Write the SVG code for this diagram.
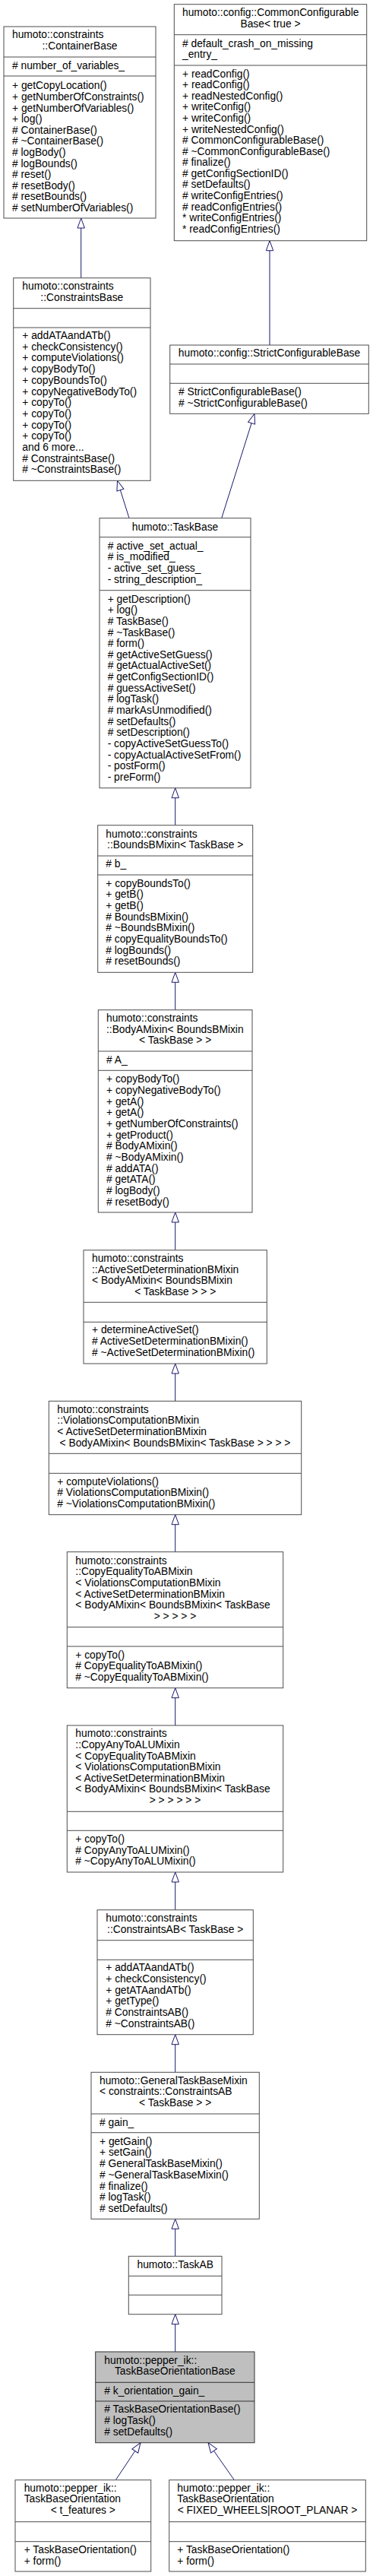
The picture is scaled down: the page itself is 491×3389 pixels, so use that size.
<svg xmlns="http://www.w3.org/2000/svg" width="491" height="3389" viewBox="0 0 491 3389">
<style>
.bx{fill:#fff;stroke:#4d4d4d;stroke-width:1}
.hl{fill:#bfbfbf;stroke:#333;stroke-width:1}
.sp{stroke:#4d4d4d;stroke-width:1}
.sh{stroke:#333;stroke-width:1}
text{font-family:"Liberation Sans",Arial,Helvetica,sans-serif;font-size:13.8px;fill:#000}
.c{text-anchor:middle}
.e{stroke:#191970;stroke-width:1;fill:none;marker-end:url(#arr)}
</style>
<defs>
<marker id="arr" markerUnits="userSpaceOnUse" markerWidth="15" markerHeight="11" viewBox="0 0 15 11" refX="13.5" refY="5.5" orient="auto" overflow="visible">
<path d="M0.5,0.8 L13.5,5.5 L0.5,10.2 Z" fill="#fff" stroke="#191970" stroke-width="1"/>
</marker>
</defs>
<rect width="491" height="3389" fill="#fff"/>
<g id="connectors">
<path class="e" d="M106.7,365.7 L106.7,287"/>
<path class="e" d="M355,454 L355,316.7"/>
<path class="e" d="M170,681.7 L154.5,632.3"/>
<path class="e" d="M291.7,681.7 L335,544.3"/>
<path class="e" d="M230.7,1085.7 L230.7,1036.7"/>
<path class="e" d="M230.7,1328.7 L230.7,1279.3"/>
<path class="e" d="M230.7,1644.7 L230.7,1595"/>
<path class="e" d="M230.7,1843.3 L230.7,1794"/>
<path class="e" d="M230.7,2041.7 L230.7,1992.7"/>
<path class="e" d="M230.7,2270 L230.7,2220.7"/>
<path class="e" d="M230.7,2512.7 L230.7,2463"/>
<path class="e" d="M230.7,2726.3 L230.7,2676.7"/>
<path class="e" d="M230.7,2968.3 L230.7,2919.3"/>
<path class="e" d="M230.7,3094 L230.7,3044.7"/>
<path class="e" d="M152.3,3262.7 L185,3213.7"/>
<path class="e" d="M308.3,3262.7 L274,3213.7"/>
</g>
<g id="ContainerBase">
<rect class="bx" x="5" y="35" width="200" height="252"/>
<line class="sp" x1="5" y1="75" x2="205" y2="75"/>
<line class="sp" x1="5" y1="100" x2="205" y2="100"/>
<text x="16" y="50">humoto::constraints</text>
<text class="c" x="105" y="65">::ContainerBase</text>
<text x="16" y="90.7"># number_of_variables_</text>
<text y="117.3"><tspan x="16">+ getCopyLocation()</tspan><tspan x="16" dy="14.6">+ getNumberOfConstraints()</tspan><tspan x="16" dy="14.6">+ getNumberOfVariables()</tspan><tspan x="16" dy="14.6">+ log()</tspan><tspan x="16" dy="14.6"># ContainerBase()</tspan><tspan x="16" dy="14.6"># ~ContainerBase()</tspan><tspan x="16" dy="14.6"># logBody()</tspan><tspan x="16" dy="14.6"># logBounds()</tspan><tspan x="16" dy="14.6"># reset()</tspan><tspan x="16" dy="14.6"># resetBody()</tspan><tspan x="16" dy="14.6"># resetBounds()</tspan><tspan x="16" dy="14.6"># setNumberOfVariables()</tspan></text>
</g>
<g id="CommonConfigurableBase">
<rect class="bx" x="229.3" y="5.7" width="253.4" height="311"/>
<line class="sp" x1="229.3" y1="45.7" x2="482.7" y2="45.7"/>
<line class="sp" x1="229.3" y1="86" x2="482.7" y2="86"/>
<text x="240" y="20.7">humoto::config::CommonConfigurable</text>
<text class="c" x="356" y="36">Base&lt; true &gt;</text>
<text x="240" y="61.7"># default_crash_on_missing</text>
<text x="240" y="76.3">_entry_</text>
<text y="101.7"><tspan x="240">+ readConfig()</tspan><tspan x="240" dy="14.57">+ readConfig()</tspan><tspan x="240" dy="14.57">+ readNestedConfig()</tspan><tspan x="240" dy="14.57">+ writeConfig()</tspan><tspan x="240" dy="14.57">+ writeConfig()</tspan><tspan x="240" dy="14.57">+ writeNestedConfig()</tspan><tspan x="240" dy="14.57"># CommonConfigurableBase()</tspan><tspan x="240" dy="14.57"># ~CommonConfigurableBase()</tspan><tspan x="240" dy="14.57"># finalize()</tspan><tspan x="240" dy="14.57"># getConfigSectionID()</tspan><tspan x="240" dy="14.57"># setDefaults()</tspan><tspan x="240" dy="14.57"># writeConfigEntries()</tspan><tspan x="240" dy="14.57"># readConfigEntries()</tspan><tspan x="240" dy="14.57">* writeConfigEntries()</tspan><tspan x="240" dy="14.57">* readConfigEntries()</tspan></text>
</g>
<g id="ConstraintsBase">
<rect class="bx" x="17.7" y="365.7" width="180.3" height="266.6"/>
<line class="sp" x1="17.7" y1="405.7" x2="198" y2="405.7"/>
<line class="sp" x1="17.7" y1="431" x2="198" y2="431"/>
<text x="29.3" y="381">humoto::constraints</text>
<text class="c" x="107.8" y="396">::ConstraintsBase</text>
<text y="446"><tspan x="29.3">+ addATAandATb()</tspan><tspan x="29.3" dy="14.7">+ checkConsistency()</tspan><tspan x="29.3" dy="14.7">+ computeViolations()</tspan><tspan x="29.3" dy="14.7">+ copyBodyTo()</tspan><tspan x="29.3" dy="14.7">+ copyBoundsTo()</tspan><tspan x="29.3" dy="14.7">+ copyNegativeBodyTo()</tspan><tspan x="29.3" dy="14.7">+ copyTo()</tspan><tspan x="29.3" dy="14.7">+ copyTo()</tspan><tspan x="29.3" dy="14.7">+ copyTo()</tspan><tspan x="29.3" dy="14.7">+ copyTo()</tspan><tspan x="29.3" dy="14.7">and 6 more...</tspan><tspan x="29.3" dy="14.7"># ConstraintsBase()</tspan><tspan x="29.3" dy="14.7"># ~ConstraintsBase()</tspan></text>
</g>
<g id="StrictConfigurableBase">
<rect class="bx" x="223.7" y="454" width="261.6" height="90.3"/>
<line class="sp" x1="223.7" y1="479" x2="485.3" y2="479"/>
<line class="sp" x1="223.7" y1="504.3" x2="485.3" y2="504.3"/>
<text class="c" x="354.5" y="469.3">humoto::config::StrictConfigurableBase</text>
<text y="520"><tspan x="235"># StrictConfigurableBase()</tspan><tspan x="235" dy="14.6"># ~StrictConfigurableBase()</tspan></text>
</g>
<g id="TaskBase">
<rect class="bx" x="131" y="681.7" width="199" height="355"/>
<line class="sp" x1="131" y1="706.7" x2="330" y2="706.7"/>
<line class="sp" x1="131" y1="776.7" x2="330" y2="776.7"/>
<text class="c" x="230.5" y="697.7">humoto::TaskBase</text>
<text y="722.7"><tspan x="141.7"># active_set_actual_</tspan><tspan x="141.7" dy="14.65"># is_modified_</tspan><tspan x="141.7" dy="14.65">- active_set_guess_</tspan><tspan x="141.7" dy="14.65">- string_description_</tspan></text>
<text y="792.7"><tspan x="141.7">+ getDescription()</tspan><tspan x="141.7" dy="14.63">+ log()</tspan><tspan x="141.7" dy="14.63"># TaskBase()</tspan><tspan x="141.7" dy="14.63"># ~TaskBase()</tspan><tspan x="141.7" dy="14.63"># form()</tspan><tspan x="141.7" dy="14.63"># getActiveSetGuess()</tspan><tspan x="141.7" dy="14.63"># getActualActiveSet()</tspan><tspan x="141.7" dy="14.63"># getConfigSectionID()</tspan><tspan x="141.7" dy="14.63"># guessActiveSet()</tspan><tspan x="141.7" dy="14.63"># logTask()</tspan><tspan x="141.7" dy="14.63"># markAsUnmodified()</tspan><tspan x="141.7" dy="14.63"># setDefaults()</tspan><tspan x="141.7" dy="14.63"># setDescription()</tspan><tspan x="141.7" dy="14.63">- copyActiveSetGuessTo()</tspan><tspan x="141.7" dy="14.63">- copyActualActiveSetFrom()</tspan><tspan x="141.7" dy="14.63">- postForm()</tspan><tspan x="141.7" dy="14.63">- preForm()</tspan></text>
</g>
<g id="BoundsBMixin">
<rect class="bx" x="128.7" y="1085.7" width="204" height="193.6"/>
<line class="sp" x1="128.7" y1="1126" x2="332.7" y2="1126"/>
<line class="sp" x1="128.7" y1="1151" x2="332.7" y2="1151"/>
<text x="139.3" y="1101.7">humoto::constraints</text>
<text class="c" x="230.7" y="1116">::BoundsBMixin&lt; TaskBase &gt;</text>
<text x="139.3" y="1141"># b_</text>
<text y="1166.7"><tspan x="139.3">+ copyBoundsTo()</tspan><tspan x="139.3" dy="14.66">+ getB()</tspan><tspan x="139.3" dy="14.66">+ getB()</tspan><tspan x="139.3" dy="14.66"># BoundsBMixin()</tspan><tspan x="139.3" dy="14.66"># ~BoundsBMixin()</tspan><tspan x="139.3" dy="14.66"># copyEqualityBoundsTo()</tspan><tspan x="139.3" dy="14.66"># logBounds()</tspan><tspan x="139.3" dy="14.66"># resetBounds()</tspan></text>
</g>
<g id="BodyAMixin">
<rect class="bx" x="129.3" y="1328.7" width="202.7" height="266.3"/>
<line class="sp" x1="129.3" y1="1383" x2="332" y2="1383"/>
<line class="sp" x1="129.3" y1="1408.3" x2="332" y2="1408.3"/>
<text x="140" y="1344.3">humoto::constraints</text>
<text x="140" y="1358.7">::BodyAMixin&lt; BoundsBMixin</text>
<text class="c" x="230.7" y="1373">&lt; TaskBase &gt; &gt;</text>
<text x="140" y="1399.3"># A_</text>
<text y="1424.3"><tspan x="140">+ copyBodyTo()</tspan><tspan x="140" dy="14.67">+ copyNegativeBodyTo()</tspan><tspan x="140" dy="14.67">+ getA()</tspan><tspan x="140" dy="14.67">+ getA()</tspan><tspan x="140" dy="14.67">+ getNumberOfConstraints()</tspan><tspan x="140" dy="14.67">+ getProduct()</tspan><tspan x="140" dy="14.67"># BodyAMixin()</tspan><tspan x="140" dy="14.67"># ~BodyAMixin()</tspan><tspan x="140" dy="14.67"># addATA()</tspan><tspan x="140" dy="14.67"># getATA()</tspan><tspan x="140" dy="14.67"># logBody()</tspan><tspan x="140" dy="14.67"># resetBody()</tspan></text>
</g>
<g id="ActiveSetDeterminationBMixin">
<rect class="bx" x="110" y="1644.7" width="241.3" height="149.3"/>
<line class="sp" x1="110" y1="1713.3" x2="351.3" y2="1713.3"/>
<line class="sp" x1="110" y1="1739.3" x2="351.3" y2="1739.3"/>
<text y="1660"><tspan x="121">humoto::constraints</tspan><tspan x="121" dy="14.67">::ActiveSetDeterminationBMixin</tspan><tspan x="121" dy="14.67">&lt; BodyAMixin&lt; BoundsBMixin</tspan></text>
<text class="c" x="230.7" y="1704">&lt; TaskBase &gt; &gt; &gt;</text>
<text y="1754.3"><tspan x="121">+ determineActiveSet()</tspan><tspan x="121" dy="14.67"># ActiveSetDeterminationBMixin()</tspan><tspan x="121" dy="14.67"># ~ActiveSetDeterminationBMixin()</tspan></text>
</g>
<g id="ViolationsComputationBMixin">
<rect class="bx" x="64.3" y="1843.3" width="332.4" height="149.4"/>
<line class="sp" x1="64.3" y1="1912.3" x2="396.7" y2="1912.3"/>
<line class="sp" x1="64.3" y1="1938.3" x2="396.7" y2="1938.3"/>
<text y="1858.7"><tspan x="75.3">humoto::constraints</tspan><tspan x="75.3" dy="14.67">::ViolationsComputationBMixin</tspan><tspan x="75.3" dy="14.67">&lt; ActiveSetDeterminationBMixin</tspan></text>
<text class="c" x="230.5" y="1902.7">&lt; BodyAMixin&lt; BoundsBMixin&lt; TaskBase &gt; &gt; &gt; &gt;</text>
<text y="1953.7"><tspan x="75.3">+ computeViolations()</tspan><tspan x="75.3" dy="14.67"># ViolationsComputationBMixin()</tspan><tspan x="75.3" dy="14.67"># ~ViolationsComputationBMixin()</tspan></text>
</g>
<g id="CopyEqualityToABMixin">
<rect class="bx" x="88.3" y="2041.7" width="284.4" height="179"/>
<line class="sp" x1="88.3" y1="2140.7" x2="372.7" y2="2140.7"/>
<line class="sp" x1="88.3" y1="2166" x2="372.7" y2="2166"/>
<text y="2057.7"><tspan x="99.3">humoto::constraints</tspan><tspan x="99.3" dy="14.66">::CopyEqualityToABMixin</tspan><tspan x="99.3" dy="14.66">&lt; ViolationsComputationBMixin</tspan><tspan x="99.3" dy="14.66">&lt; ActiveSetDeterminationBMixin</tspan><tspan x="99.3" dy="14.66">&lt; BodyAMixin&lt; BoundsBMixin&lt; TaskBase</tspan></text>
<text class="c" x="230.5" y="2131">&gt; &gt; &gt; &gt; &gt;</text>
<text y="2181.7"><tspan x="99.3">+ copyTo()</tspan><tspan x="99.3" dy="14.66"># CopyEqualityToABMixin()</tspan><tspan x="99.3" dy="14.66"># ~CopyEqualityToABMixin()</tspan></text>
</g>
<g id="CopyAnyToALUMixin">
<rect class="bx" x="88.3" y="2270" width="284.4" height="193"/>
<line class="sp" x1="88.3" y1="2383.3" x2="372.7" y2="2383.3"/>
<line class="sp" x1="88.3" y1="2408.3" x2="372.7" y2="2408.3"/>
<text y="2285.3"><tspan x="99.3">humoto::constraints</tspan><tspan x="99.3" dy="14.62">::CopyAnyToALUMixin</tspan><tspan x="99.3" dy="14.62">&lt; CopyEqualityToABMixin</tspan><tspan x="99.3" dy="14.62">&lt; ViolationsComputationBMixin</tspan><tspan x="99.3" dy="14.62">&lt; ActiveSetDeterminationBMixin</tspan><tspan x="99.3" dy="14.62">&lt; BodyAMixin&lt; BoundsBMixin&lt; TaskBase</tspan></text>
<text class="c" x="230.5" y="2373">&gt; &gt; &gt; &gt; &gt; &gt;</text>
<text y="2424"><tspan x="99.3">+ copyTo()</tspan><tspan x="99.3" dy="14.66"># CopyAnyToALUMixin()</tspan><tspan x="99.3" dy="14.66"># ~CopyAnyToALUMixin()</tspan></text>
</g>
<g id="ConstraintsAB">
<rect class="bx" x="128" y="2512.7" width="205.3" height="164"/>
<line class="sp" x1="128" y1="2552.7" x2="333.3" y2="2552.7"/>
<line class="sp" x1="128" y1="2578.3" x2="333.3" y2="2578.3"/>
<text x="139.3" y="2528.3">humoto::constraints</text>
<text class="c" x="230.7" y="2542.9">::ConstraintsAB&lt; TaskBase &gt;</text>
<text y="2593.3"><tspan x="139.3">+ addATAandATb()</tspan><tspan x="139.3" dy="14.68">+ checkConsistency()</tspan><tspan x="139.3" dy="14.68">+ getATAandATb()</tspan><tspan x="139.3" dy="14.68">+ getType()</tspan><tspan x="139.3" dy="14.68"># ConstraintsAB()</tspan><tspan x="139.3" dy="14.68"># ~ConstraintsAB()</tspan></text>
</g>
<g id="GeneralTaskBaseMixin">
<rect class="bx" x="120" y="2726.3" width="221.3" height="193"/>
<line class="sp" x1="120" y1="2781" x2="341.3" y2="2781"/>
<line class="sp" x1="120" y1="2805.7" x2="341.3" y2="2805.7"/>
<text x="131" y="2741.7">humoto::GeneralTaskBaseMixin</text>
<text x="131" y="2756.3">&lt; constraints::ConstraintsAB</text>
<text class="c" x="230.7" y="2771">&lt; TaskBase &gt; &gt;</text>
<text x="131" y="2797.3"># gain_</text>
<text y="2821.7"><tspan x="131">+ getGain()</tspan><tspan x="131" dy="14.7">+ setGain()</tspan><tspan x="131" dy="14.7"># GeneralTaskBaseMixin()</tspan><tspan x="131" dy="14.7"># ~GeneralTaskBaseMixin()</tspan><tspan x="131" dy="14.7"># finalize()</tspan><tspan x="131" dy="14.7"># logTask()</tspan><tspan x="131" dy="14.7"># setDefaults()</tspan></text>
</g>
<g id="TaskAB">
<rect class="bx" x="169.3" y="2968.3" width="122.7" height="76.4"/>
<line class="sp" x1="169.3" y1="2994.3" x2="292" y2="2994.3"/>
<line class="sp" x1="169.3" y1="3019.3" x2="292" y2="3019.3"/>
<text class="c" x="230.7" y="2984.3">humoto::TaskAB</text>
</g>
<g id="TaskBaseOrientationBase">
<rect class="hl" x="125.7" y="3094" width="209.3" height="119.7"/>
<line class="sh" x1="125.7" y1="3134.3" x2="335" y2="3134.3"/>
<line class="sh" x1="125.7" y1="3159" x2="335" y2="3159"/>
<text x="137.3" y="3110">humoto::pepper_ik::</text>
<text class="c" x="230.3" y="3124.3">TaskBaseOrientationBase</text>
<text x="137.3" y="3150"># k_orientation_gain_</text>
<text y="3174.3"><tspan x="137.3"># TaskBaseOrientationBase()</tspan><tspan x="137.3" dy="14.7"># logTask()</tspan><tspan x="137.3" dy="14.7"># setDefaults()</tspan></text>
</g>
<g id="TaskBaseOrientation_t_features">
<rect class="bx" x="20" y="3262.7" width="178.7" height="120.3"/>
<line class="sp" x1="20" y1="3317.7" x2="198.7" y2="3317.7"/>
<line class="sp" x1="20" y1="3343.7" x2="198.7" y2="3343.7"/>
<text y="3277.7"><tspan x="31.7">humoto::pepper_ik::</tspan><tspan x="31.7" dy="14.65">TaskBaseOrientation</tspan></text>
<text class="c" x="109.3" y="3307">&lt; t_features &gt;</text>
<text y="3359"><tspan x="31.7">+ TaskBaseOrientation()</tspan><tspan x="31.7" dy="14.7">+ form()</tspan></text>
</g>
<g id="TaskBaseOrientation_FIXED_WHEELS_ROOT_PLANAR">
<rect class="bx" x="222.7" y="3262.7" width="258.6" height="120.3"/>
<line class="sp" x1="222.7" y1="3317.7" x2="481.3" y2="3317.7"/>
<line class="sp" x1="222.7" y1="3343.7" x2="481.3" y2="3343.7"/>
<text y="3277.7"><tspan x="233.3">humoto::pepper_ik::</tspan><tspan x="233.3" dy="14.65">TaskBaseOrientation</tspan></text>
<text class="c" x="352" y="3307">&lt; FIXED_WHEELS|ROOT_PLANAR &gt;</text>
<text y="3359"><tspan x="233.3">+ TaskBaseOrientation()</tspan><tspan x="233.3" dy="14.7">+ form()</tspan></text>
</g>
</svg>
